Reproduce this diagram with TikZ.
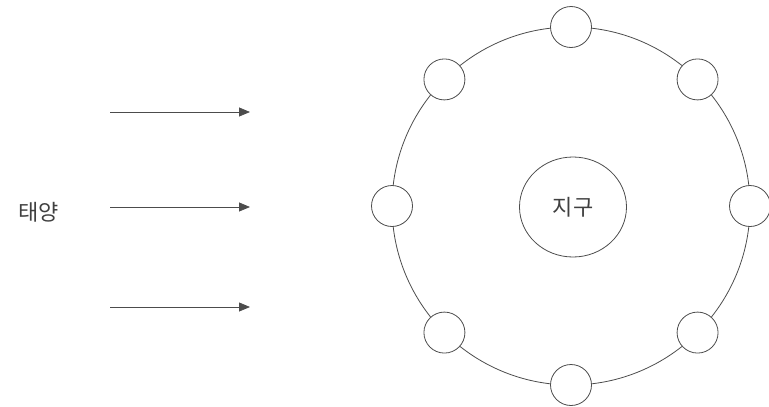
\documentclass[tikz,border=0pt]{standalone}
\usepackage{fontspec}
\newfontfamily\kr{Noto Sans CJK KR}
\usetikzlibrary{shapes.geometric,arrows.meta}
\begin{document}
\begin{tikzpicture}[x=1pt,y=-1pt,
  thinline/.style={draw=black!70,line width=0.8pt},
  sat/.style={circle,thinline,fill=white,minimum size=41pt,inner sep=0pt},
  earth/.style={ellipse,thinline,minimum width=107pt,minimum height=100pt,inner sep=0pt,text=black!75,font=\kr\fontsize{22}{26}\selectfont},
  sunlabel/.style={text=black!75,inner sep=0pt,font=\kr\fontsize{22}{26}\selectfont},
  ray/.style={thinline,-{Triangle[length=11pt,width=9pt]}}]
\useasboundingbox (0,0) rectangle (769,407);
\coordinate (c) at (571,206);
\draw[thinline] (c) circle[radius=179];
\node[earth] (earth) at (573,207) {지구};
\foreach \a in {0,45,...,315} \node[sat] (s\a) at ([shift={(\a:179pt)}]c) {};
\node[sunlabel] (sun) at (39,212) {태양};
\foreach \i/\y in {1/112,2/207,3/307}{
  \coordinate (r\i s) at (110,\y);
  \coordinate (r\i e) at (250,\y);
  \draw[ray] (r\i s) -- (r\i e);
}
\end{tikzpicture}
\end{document}
